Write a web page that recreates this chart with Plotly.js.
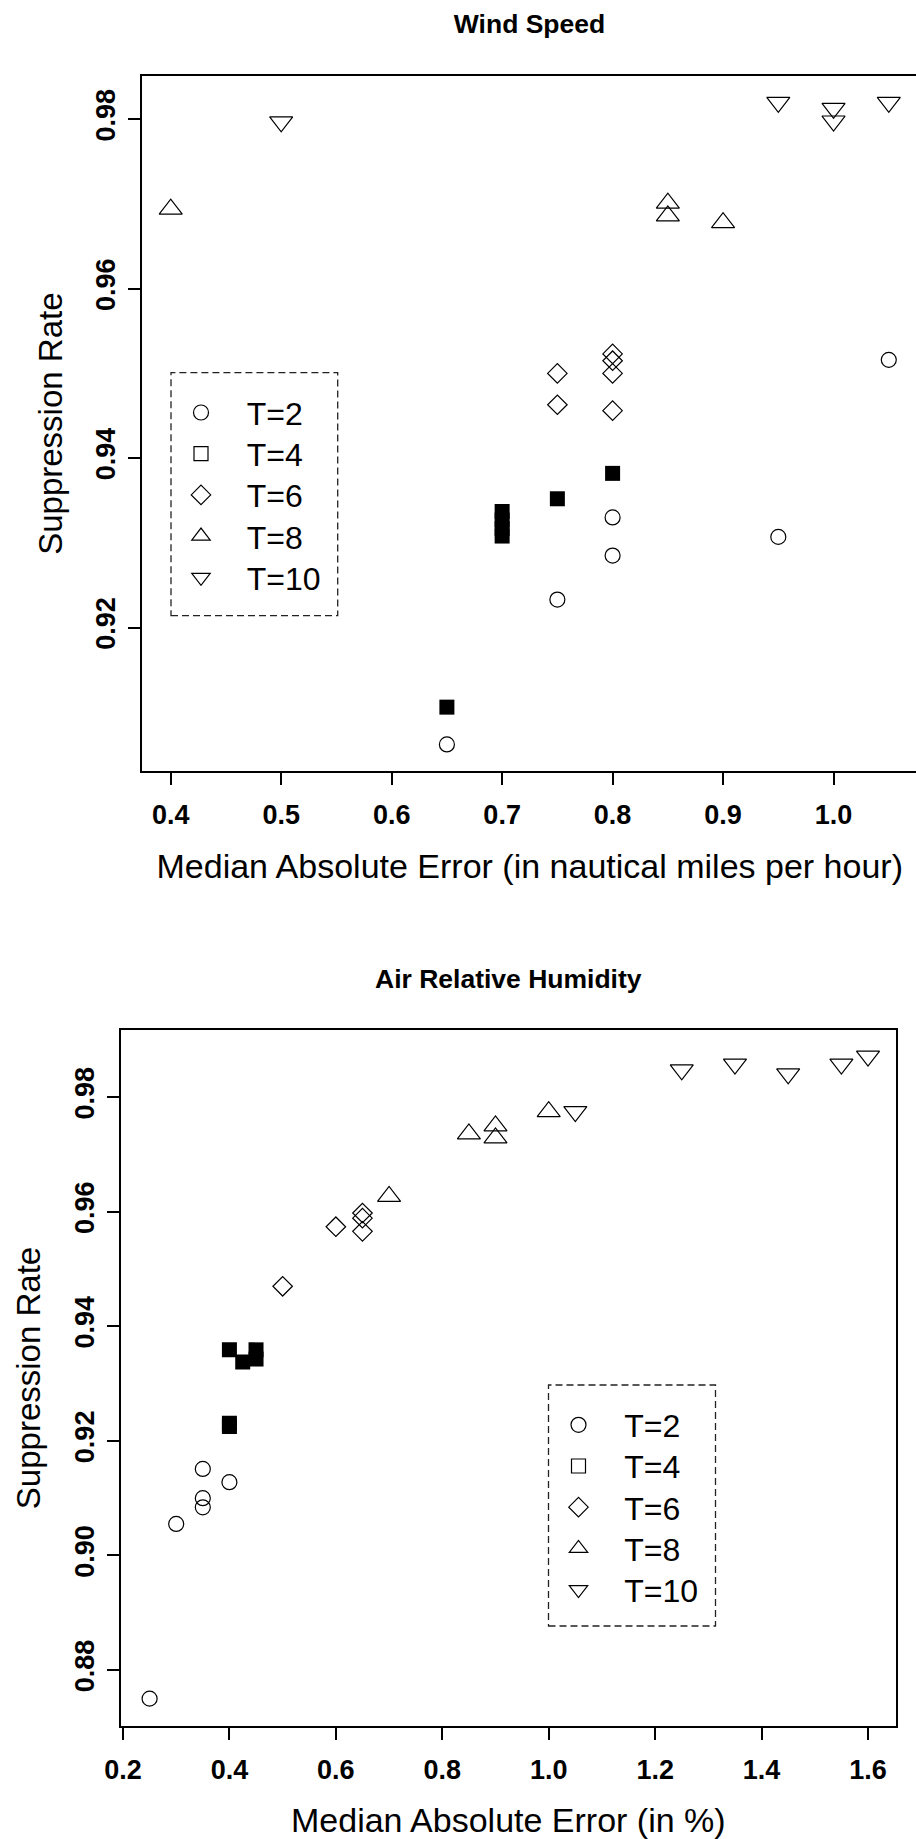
<!DOCTYPE html>
<html><head><meta charset="utf-8">
<script src="https://cdn.plot.ly/plotly-3.0.1.min.js"></script>
<style>html,body{margin:0;padding:0;overflow:hidden;background:#fff}#chart{width:920px;height:1839px}</style>
</head><body><div id="chart"></div>
<script>
// ---------- Wind Speed (top panel) ----------
const windT2x  = [0.65, 0.75, 0.80, 0.80, 0.95, 1.05];
const windT2y  = [0.9062, 0.9233, 0.9285, 0.9330, 0.9307, 0.9516];
const windT4x  = [0.65, 0.70, 0.70, 0.70, 0.70, 0.75, 0.80];
const windT4y  = [0.9106, 0.9308, 0.9317, 0.9327, 0.9337, 0.9352, 0.9382];
const windT6x  = [0.75, 0.75, 0.80, 0.80, 0.80, 0.80];
const windT6y  = [0.9500, 0.9463, 0.9523, 0.9515, 0.9500, 0.9456];
const windT8x  = [0.40, 0.85, 0.85, 0.90];
const windT8y  = [0.9694, 0.9701, 0.9686, 0.9678];
const windT10x = [0.50, 0.95, 1.00, 1.00, 1.05];
const windT10y = [0.9797, 0.9820, 0.9813, 0.9798, 0.9820];

// ---------- Air Relative Humidity (bottom panel) ----------
const humT2x  = [0.25, 0.30, 0.35, 0.35, 0.35, 0.40];
const humT2y  = [0.8750, 0.9055, 0.9084, 0.9100, 0.9151, 0.9128];
const humT4x  = [0.40, 0.40, 0.40, 0.425, 0.45, 0.45];
const humT4y  = [0.9359, 0.9231, 0.9225, 0.9338, 0.9359, 0.9343];
const humT6x  = [0.50, 0.60, 0.65, 0.65, 0.65];
const humT6y  = [0.9470, 0.9574, 0.9598, 0.9589, 0.9566];
const humT8x  = [0.70, 0.85, 0.90, 0.90, 1.00];
const humT8y  = [0.9627, 0.9736, 0.9750, 0.9729, 0.9775];
const humT10x = [1.05, 1.25, 1.35, 1.45, 1.55, 1.60];
const humT10y = [0.9775, 0.9848, 0.9858, 0.9841, 0.9858, 0.9872];

const legendNames = ['T=2', 'T=4', 'T=6', 'T=8', 'T=10'];
const titleTop = 'Wind Speed';
const titleBottom = 'Air Relative Humidity';
const xTitleTop = 'Median Absolute Error (in nautical miles per hour)';
const xTitleBottom = 'Median Absolute Error (in %)';
const yTitle = 'Suppression Rate';

// ---------- page geometry (pixels) ----------
const W = 920, H = 1839;
const fx = v => v / W;
const fy = v => 1 - v / H;
const FONT = 'Liberation Sans, Arial, Helvetica, sans-serif';
const CLEAR = 'rgba(0,0,0,0)';

function openMarker(symbol, size) {
  return {symbol: symbol, size: size, color: CLEAR, line: {color: '#000', width: 1.2}};
}
const styles = [
  openMarker('circle', 15),
  openMarker('square', 14),
  openMarker('diamond', 15),
  openMarker('triangle-up', 20),
  openMarker('triangle-down', 20)
];
const filledSquare = {symbol: 'square', size: 15, color: '#000', line: {width: 0}};

// one small legend per key entry so rows can be spaced like the original key
function panelTraces(xs, ys, xa, ya, legIds) {
  const out = [];
  for (let i = 0; i < 5; i++) {
    if (i === 1) {
      out.push({type: 'scatter', mode: 'markers', x: [null], y: [null], xaxis: xa, yaxis: ya,
        name: legendNames[i], legend: legIds[i], marker: styles[i], hoverinfo: 'skip'});
      out.push({type: 'scatter', mode: 'markers', x: xs[i], y: ys[i], xaxis: xa, yaxis: ya,
        name: legendNames[i], showlegend: false, marker: filledSquare});
    } else {
      out.push({type: 'scatter', mode: 'markers', x: xs[i], y: ys[i], xaxis: xa, yaxis: ya,
        name: legendNames[i], legend: legIds[i], marker: styles[i]});
    }
  }
  return out;
}

const topLegIds = ['legend', 'legend2', 'legend3', 'legend4', 'legend5'];
const botLegIds = ['legend6', 'legend7', 'legend8', 'legend9', 'legend10'];

const data = [].concat(
  panelTraces([windT2x, windT4x, windT6x, windT8x, windT10x],
              [windT2y, windT4y, windT6y, windT8y, windT10y], 'x', 'y', topLegIds),
  panelTraces([humT2x, humT4x, humT6x, humT8x, humT10x],
              [humT2y, humT4y, humT6y, humT8y, humT10y], 'x2', 'y2', botLegIds)
);

function axisBase() {
  return {
    showgrid: false, zeroline: false, showline: true, mirror: true,
    linecolor: '#000', linewidth: 2, ticks: 'outside', ticklen: 12, tickwidth: 2,
    tickcolor: '#000', automargin: false, fixedrange: true,
    tickfont: {family: FONT, size: 27, color: '#000', weight: 'bold'}
  };
}
const xTitleFont = {family: FONT, size: 34, color: '#000'};
const yTitleFont = {family: FONT, size: 33, color: '#000'};

const xaxis = Object.assign(axisBase(), {
  domain: [fx(142), fx(917.5)], range: [0.374, 1.076], anchor: 'y',
  tick0: 0.4, dtick: 0.1, tickformat: '.1f', ticklabelstandoff: 7,
  title: {text: xTitleTop, font: xTitleFont, standoff: 25}
});
const yaxis = Object.assign(axisBase(), {
  domain: [fy(771), fy(76.3)], range: [0.90306, 0.98508], anchor: 'x',
  tick0: 0.92, dtick: 0.02, tickformat: '.2f', tickangle: -90, ticklabelstandoff: 2,
  title: {text: yTitle, font: yTitleFont, standoff: 19}
});
const xaxis2 = Object.assign(axisBase(), {
  domain: [fx(120.7), fx(896)], range: [0.1957, 1.6526], anchor: 'y2',
  tick0: 0.2, dtick: 0.2, tickformat: '.1f', ticklabelstandoff: 7,
  title: {text: xTitleBottom, font: xTitleFont, standoff: 25}
});
const yaxis2 = Object.assign(axisBase(), {
  domain: [fy(1726), fy(1030)], range: [0.87022, 0.99175], anchor: 'x2',
  tick0: 0.88, dtick: 0.02, tickformat: '.2f', tickangle: -90, ticklabelstandoff: 2,
  title: {text: yTitle, font: yTitleFont, standoff: 19}
});

// key geometry: dashed box (l,t,r,b) in page pixels; rows start 40px below its top, 41.2px apart
const ITEMW = 81.4;             // symbol-to-text gap = (ITEMW+10)/2
function keyLegends(ids, boxL, boxT) {
  const out = {};
  ids.forEach((id, k) => {
    out[id] = {x: fx(boxL + 30 - (ITEMW + 10) / 2), y: fy(boxT + 40 + 41.2 * k),
      xref: 'paper', yref: 'paper', xanchor: 'left', yanchor: 'middle',
      bgcolor: CLEAR, borderwidth: 0, itemwidth: ITEMW,
      font: {family: FONT, size: 32, color: '#000'}};
  });
  return out;
}
function dashedBox(l, t, r, b) {
  return {type: 'rect', xref: 'paper', yref: 'paper', x0: fx(l), x1: fx(r), y0: fy(b), y1: fy(t),
    line: {color: '#222', width: 1.3, dash: '7px,4px'}, fillcolor: CLEAR, layer: 'above'};
}

const layout = Object.assign({
  width: W, height: H, margin: {l: 0, r: 0, t: 0, b: 0, pad: 0},
  paper_bgcolor: '#fff', plot_bgcolor: '#fff',
  font: {family: FONT, color: '#000'},
  title: {text: titleTop, font: {family: FONT, size: 26.5, color: '#000', weight: 'bold'},
    xref: 'container', yref: 'container', x: fx(529.5), y: 1 - 24 / H, xanchor: 'center', yanchor: 'middle'},
  xaxis: xaxis, yaxis: yaxis, xaxis2: xaxis2, yaxis2: yaxis2,
  shapes: [dashedBox(171, 372.7, 337.7, 615.7), dashedBox(548.5, 1385, 715.5, 1626)],
  annotations: [{text: titleBottom, xref: 'paper', yref: 'paper', x: fx(508), y: fy(979),
    xanchor: 'center', yanchor: 'middle', showarrow: false,
    font: {family: FONT, size: 26.5, color: '#000', weight: 'bold'}}]
}, keyLegends(topLegIds, 171, 372.7), keyLegends(botLegIds, 548.5, 1385));

Plotly.newPlot('chart', data, layout, {staticPlot: true, displayModeBar: false});
</script>
</body></html>
